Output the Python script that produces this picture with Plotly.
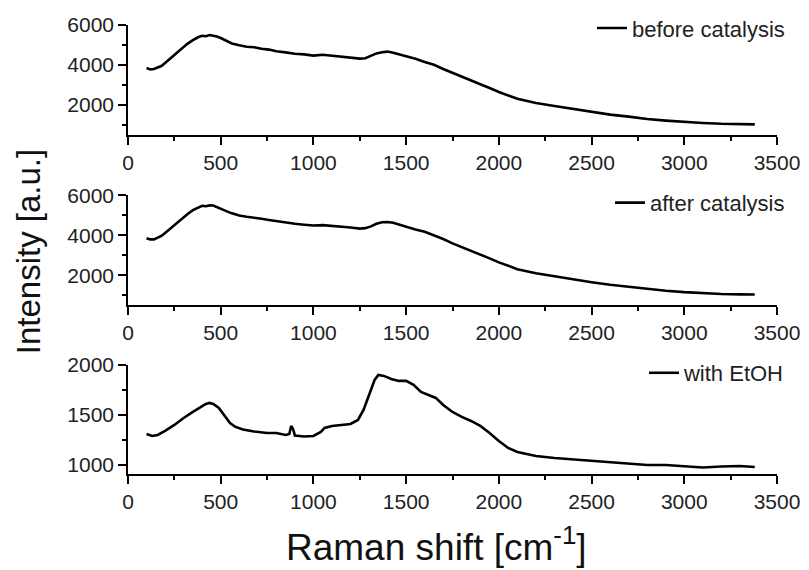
import plotly.graph_objects as go
from plotly.subplots import make_subplots

FONT = "Liberation Sans, Arial, sans-serif"

# before catalysis
before_x = [100, 120, 140, 160, 180, 200, 230, 260, 290, 320, 350, 380, 400, 420, 440, 460, 480,
            500, 530, 560, 600, 640, 680, 720, 760, 800, 850, 900, 950, 1000, 1050, 1100, 1150,
            1200, 1250, 1280, 1310, 1340, 1370, 1400, 1430, 1460, 1500, 1550, 1600, 1650, 1700,
            1750, 1800, 1850, 1900, 1950, 2000, 2100, 2200, 2300, 2400, 2500, 2600, 2700, 2800,
            2900, 3000, 3100, 3200, 3300, 3380]
before_y = [3850, 3780, 3800, 3860, 3950, 4100, 4340, 4620, 4840, 5060, 5240, 5400, 5460, 5440,
            5500, 5470, 5420, 5350, 5210, 5080, 4990, 4910, 4890, 4810, 4770, 4690, 4630, 4560,
            4530, 4470, 4510, 4460, 4420, 4390, 4320, 4340, 4450, 4580, 4640, 4670, 4610, 4540,
            4430, 4310, 4150, 4010, 3800, 3600, 3400, 3210, 3040, 2850, 2650, 2310, 2100, 1950,
            1800, 1650, 1520, 1420, 1300, 1220, 1150, 1100, 1060, 1040, 1030]

# after catalysis
after_x = before_x
after_y = [3850, 3790, 3790, 3870, 3960, 4110, 4350, 4600, 4850, 5050, 5250, 5390, 5470, 5450,
           5490, 5480, 5410, 5340, 5200, 5090, 4980, 4920, 4880, 4820, 4760, 4700, 4620, 4570,
           4520, 4480, 4500, 4470, 4410, 4380, 4330, 4350, 4440, 4570, 4650, 4660, 4620, 4530,
           4440, 4280, 4170, 4000, 3810, 3590, 3410, 3200, 3050, 2840, 2640, 2300, 2100, 1940,
           1790, 1650, 1520, 1410, 1300, 1220, 1150, 1100, 1060, 1040, 1030]

# with EtOH
etoh_x = [100, 130, 160, 200, 250, 300, 350, 390, 420, 440, 460, 490, 520, 550, 580, 620, 680,
          750, 800, 850, 870, 880, 890, 900, 950, 1000, 1040, 1060, 1100, 1150, 1200, 1240, 1270,
          1300, 1330, 1350, 1380, 1420, 1460, 1500, 1540, 1580, 1620, 1660, 1700, 1750, 1800,
          1850, 1900, 1950, 2000, 2050, 2100, 2200, 2300, 2400, 2500, 2600, 2700, 2800, 2900,
          3000, 3100, 3200, 3300, 3380]
etoh_y = [1310, 1290, 1300, 1340, 1400, 1470, 1530, 1580, 1610, 1620, 1610, 1570, 1490, 1420,
          1380, 1355, 1335, 1320, 1320, 1300, 1310, 1390, 1360, 1295, 1285, 1290, 1330, 1370,
          1390, 1400, 1410, 1450, 1550, 1700, 1850, 1900, 1890, 1860, 1840, 1840, 1800, 1730,
          1700, 1670, 1600, 1530, 1480, 1440, 1390, 1320, 1240, 1170, 1130, 1090, 1070, 1055,
          1040, 1025, 1010, 1000, 1000, 985, 975, 985, 990, 980]

series = [
    ("before catalysis", before_x, before_y, "legend"),
    ("after catalysis", after_x, after_y, "legend2"),
    ("with EtOH", etoh_x, etoh_y, "legend3"),
]
y_ranges = [[500, 6000], [500, 6000], [910, 2000]]
y_dticks = [2000, 2000, 500]
legend_y = [0.993, 0.604, 0.225]

fig = make_subplots(rows=3, cols=1, vertical_spacing=0.0)
domains = [[0.755, 1.0], [0.376, 0.621], [0.0, 0.243]]

for i, (name, xs, ys, leg) in enumerate(series):
    fig.add_trace(
        go.Scatter(x=xs, y=ys, mode="lines", name=name, legend=leg, showlegend=True,
                   line={"color": "black", "width": 2.6}),
        row=i + 1, col=1,
    )
    fig.update_xaxes(
        range=[0, 3500], dtick=500, tick0=0, showline=True, linecolor="black", linewidth=1.5,
        ticks="outside", ticklen=8, tickwidth=1.5, tickcolor="black", showgrid=False, zeroline=False,
        minor={"dtick": 250, "ticks": "outside", "ticklen": 4, "tickwidth": 1.5, "tickcolor": "black"},
        tickfont={"family": FONT, "size": 21, "color": "#222"},
        row=i + 1, col=1,
    )
    fig.update_yaxes(
        range=y_ranges[i], dtick=y_dticks[i], tick0=0, domain=domains[i], showline=True,
        linecolor="black", linewidth=1.5, ticks="outside", ticklen=8, tickwidth=1.5,
        tickcolor="black", showgrid=False, zeroline=False,
        minor={"dtick": y_dticks[i] / 2, "ticks": "outside", "ticklen": 4, "tickwidth": 1.5,
               "tickcolor": "black"},
        tickfont={"family": FONT, "size": 21, "color": "#222"},
        row=i + 1, col=1,
    )

legend_style = {"xanchor": "right", "x": 1.02, "yanchor": "middle", "bgcolor": "rgba(0,0,0,0)",
                "font": {"family": FONT, "size": 22, "color": "#222"}}
fig.update_layout(
    # page body has an 8px margin, so the figure is 8px smaller than the window
    width=801, height=562,
    margin={"l": 120, "r": 32, "t": 17, "b": 96, "autoexpand": False},
    showlegend=True,
    plot_bgcolor="white", paper_bgcolor="white",
    legend={**legend_style, "y": legend_y[0]},
    legend2={**legend_style, "y": legend_y[1]},
    legend3={**legend_style, "y": legend_y[2]},
    annotations=[
        dict(text="Intensity [a.u.]", x=-0.154, y=0.494, xref="paper", yref="paper",
             xanchor="center", yanchor="middle", textangle=-90, showarrow=False,
             font={"family": FONT, "size": 33, "color": "#111"}),
        dict(text="Raman shift [cm<sup>-1</sup>]", x=0.476, y=-0.158, xref="paper", yref="paper",
             xanchor="center", yanchor="middle", showarrow=False,
             font={"family": FONT, "size": 37, "color": "#111"}),
    ],
)

fig.write_html("out.html")
